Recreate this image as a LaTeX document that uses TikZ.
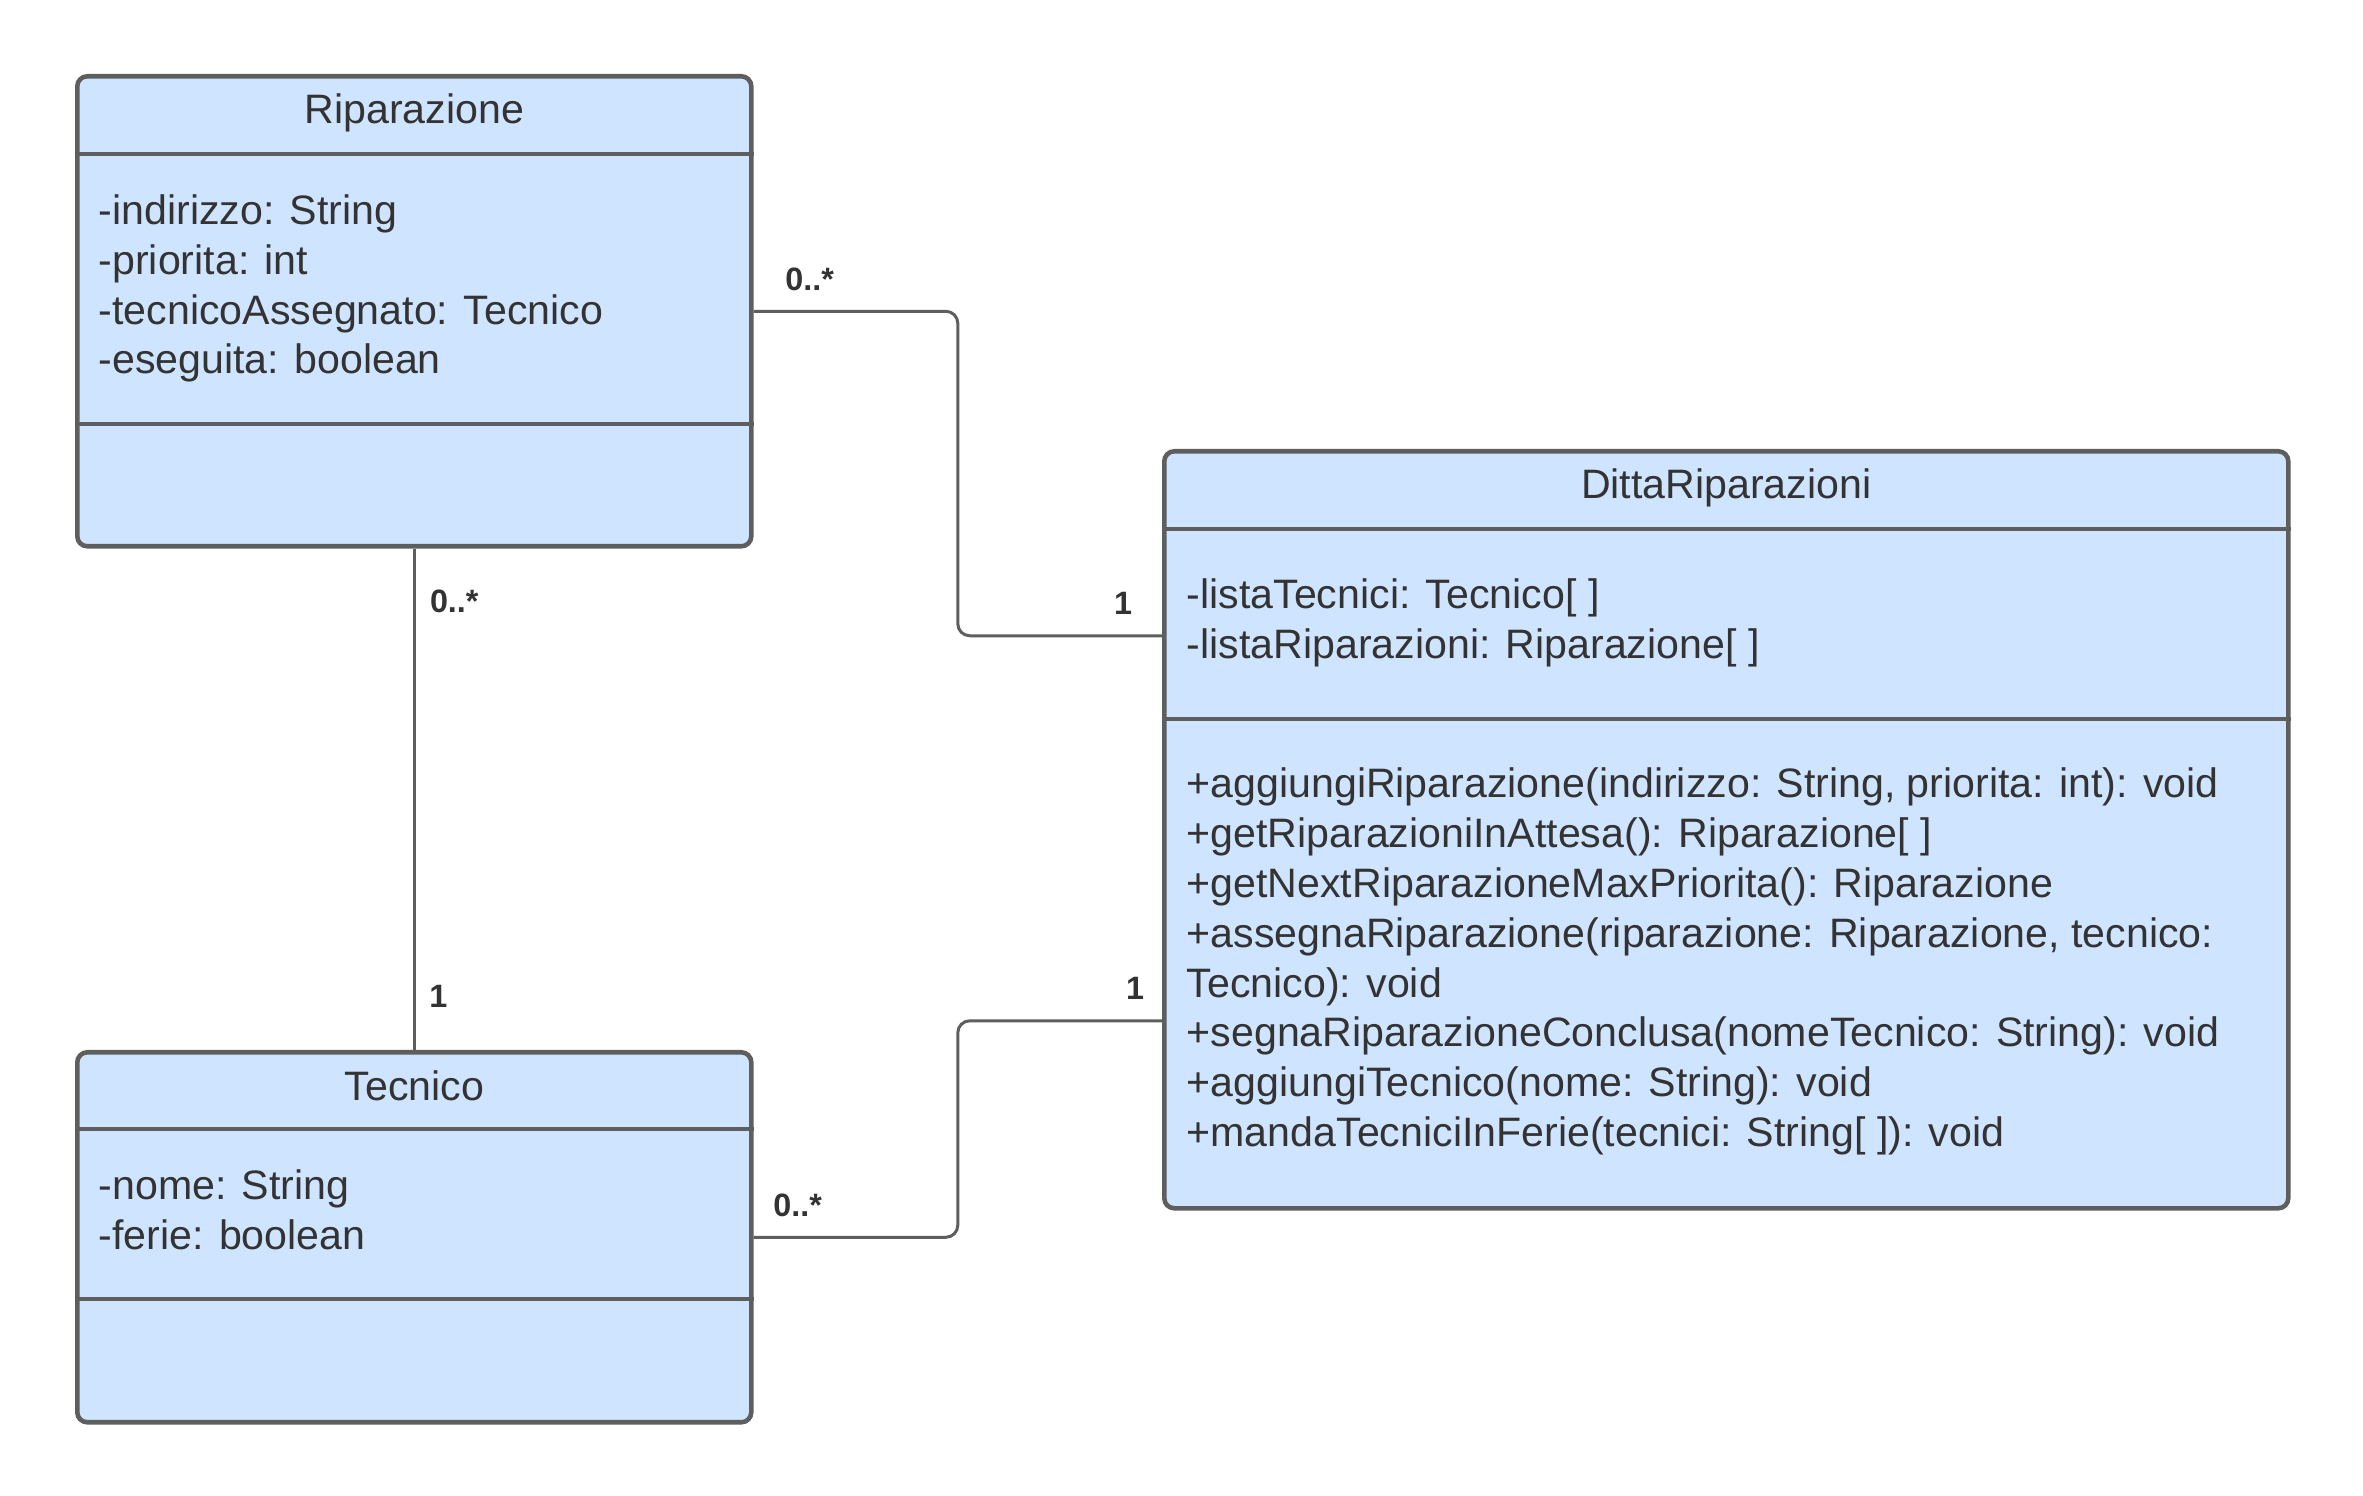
\documentclass[tikz,border=0pt]{standalone}
\usepackage{fontspec}
\setmainfont{Liberation Sans}
\definecolor{classfill}{HTML}{CFE4FF}
\definecolor{classline}{HTML}{5E5E5E}
\definecolor{classtext}{HTML}{333333}
\usetikzlibrary{
    calc,
    positioning,
}
\tikzset{
    classbox/.style={draw=classline,fill=classfill,line width=1.3pt,rounded corners=0.1cm,anchor=north west,inner sep=0pt},
    divider/.style={draw=classline,line width=1.3pt},
    classtitle/.style={text=classtext,font=\fontsize{11.7}{14.2}\selectfont,inner sep=0pt},
    member/.style={text=classtext,font=\fontsize{11.7}{14.2}\selectfont,align=left,anchor=west,inner sep=0pt},
    assoc/.style={draw=classline,line width=0.85pt,rounded corners=0.12cm},
    mult/.style={text=classtext,font=\bfseries\fontsize{9.2}{11}\selectfont,inner sep=0pt},
}

\begin{document}
\begin{tikzpicture}
            \useasboundingbox[fill=white] (0,0) rectangle (23.63,-14.96);
            % the three classes
            \node[classbox,minimum width=6.74cm,minimum height=4.70cm] (rip) at (0.75,-0.74) {};
            \node[classbox,minimum width=6.74cm,minimum height=3.70cm] (tec) at (0.75,-10.50) {};
            \node[classbox,minimum width=11.24cm,minimum height=7.57cm] (ditta) at (11.62,-4.49) {};
            \draw[divider] ([yshift=-0.80cm]rip.north west) -- ([yshift=-0.80cm]rip.north east);
            \draw[divider] ([yshift=-3.50cm]rip.north west) -- ([yshift=-3.50cm]rip.north east);
            \draw[divider] ([yshift=-0.79cm]tec.north west) -- ([yshift=-0.79cm]tec.north east);
            \draw[divider] ([yshift=-2.49cm]tec.north west) -- ([yshift=-2.49cm]tec.north east);
            \draw[divider] ([yshift=-0.80cm]ditta.north west) -- ([yshift=-0.80cm]ditta.north east);
            \draw[divider] ([yshift=-2.70cm]ditta.north west) -- ([yshift=-2.70cm]ditta.north east);
            \node[classtitle] (riptitle) at ([yshift=-0.39cm]rip.north) {Riparazione};
            \node[classtitle] (tectitle) at ([yshift=-0.36cm]tec.north) {Tecnico};
            \node[classtitle] (dittatitle) at ([yshift=-0.39cm]ditta.north) {DittaRiparazioni};
            \node[member] (ripattr) at ($(rip.north west)+(0.23,-2.145)$) {-indirizzo: String\\-priorita: int\\-tecnicoAssegnato: Tecnico\\-eseguita: boolean};
            \node[member] (tecattr) at ($(tec.north west)+(0.23,-1.60)$) {-nome: String\\-ferie: boolean};
            \node[member] (dittaattr) at ($(ditta.north west)+(0.24,-1.74)$) {-listaTecnici: Tecnico[ ]\\-listaRiparazioni: Riparazione[ ]};
            \node[member] (dittaops) at ($(ditta.north west)+(0.24,-5.125)$) {+aggiungiRiparazione(indirizzo: String, priorita: int): void\\+getRiparazioniInAttesa(): Riparazione[ ]\\+getNextRiparazioneMaxPriorita(): Riparazione\\+assegnaRiparazione(riparazione: Riparazione, tecnico:\\Tecnico): void\\+segnaRiparazioneConclusa(nomeTecnico: String): void\\+aggiungiTecnico(nome: String): void\\+mandaTecniciInFerie(tecnici: String[ ]): void};
            % associations
            \coordinate (midx) at ($(rip.east)!0.5!(ditta.west)$);
            \coordinate (dittaA) at ([yshift=1.94cm]ditta.west);
            \coordinate (dittaB) at ([yshift=-1.91cm]ditta.west);
            \draw[assoc] (rip.east) -- (rip.east -| midx) |- (dittaA);
            \draw[assoc] (tec.east) -- (tec.east -| midx) |- (dittaB);
            \draw[assoc] (rip.south) -- (tec.north);
            \node[mult] (m1) at ($(rip.east)+(0.56,0.32)$) {0..*};
            \node[mult] (m2) at ($(dittaA)+(-0.39,0.32)$) {1};
            \node[mult] (m3) at ($(rip.south)+(0.40,-0.53)$) {0..*};
            \node[mult] (m4) at ($(tec.north)+(0.24,0.54)$) {1};
            \node[mult] (m5) at ($(tec.east)+(0.44,0.32)$) {0..*};
            \node[mult] (m6) at ($(dittaB)+(-0.27,0.32)$) {1};
        \end{tikzpicture}
\end{document}
